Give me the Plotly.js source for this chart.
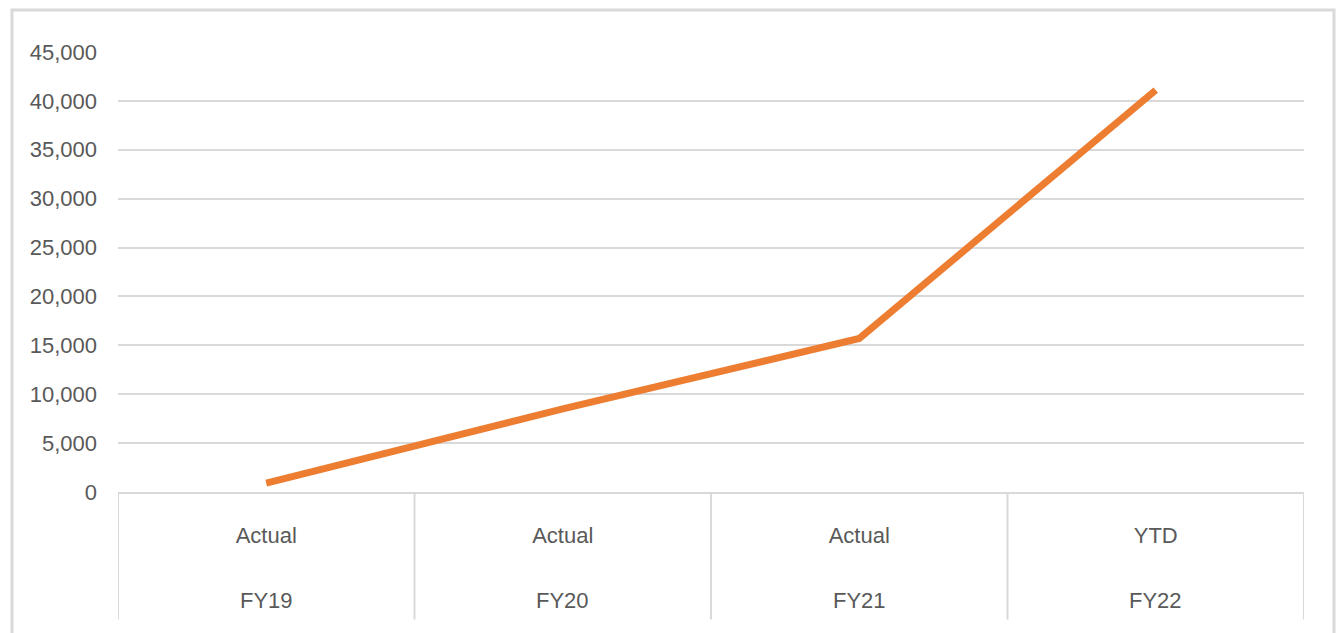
<!DOCTYPE html>
<html>
<head>
<meta charset="utf-8">
<script src="https://cdn.plot.ly/plotly-3.0.1.min.js"></script>
<style>html,body{margin:0;padding:0;background:#fff;}#chart{width:1337px;height:633px;}</style>
</head>
<body>
<div id="chart"></div>
<script>
const years = ["FY19", "FY20", "FY21", "FY22"];
const periods = ["Actual", "Actual", "Actual", "YTD"];
const values = [900, 8500, 15700, 41100];
const yTickVals = [0, 5000, 10000, 15000, 20000, 25000, 30000, 35000, 40000, 45000];

const font = {family: "Liberation Sans, Arial, sans-serif", size: 22, color: "#595959"};
const gridColor = "#d9d9d9";

const trace = {
  type: "scatter",
  mode: "lines",
  x: years,
  y: values,
  line: {color: "#ED7D31", width: 7},
  hoverinfo: "skip"
};

// category divider lines below the axis (decoration), one at each category boundary
const dividers = [];
for (let i = 0; i <= years.length; i++) {
  dividers.push({
    type: "line", xref: "x", yref: "paper",
    x0: i - 0.5, x1: i - 0.5, y0: 0, y1: -0.29,
    line: {color: gridColor, width: 2}, layer: "below"
  });
}

// outer category row (fiscal years)
const yearLabels = years.map(y => ({
  x: y, xref: "x", y: -0.2455, yref: "paper",
  text: y, showarrow: false, xanchor: "center", yanchor: "middle",
  font: font
}));

const layout = {
  width: 1337, height: 633,
  margin: {l: 118, r: 33, t: 52, b: 141},
  paper_bgcolor: "#ffffff", plot_bgcolor: "#ffffff",
  showlegend: false,
  font: font,
  xaxis: {
    type: "category",
    range: [-0.5, years.length - 0.5],
    tickvals: years,
    ticktext: periods,
    showgrid: false, zeroline: false,
    showline: true, linecolor: gridColor, linewidth: 2,
    ticks: "", ticklabelstandoff: 23,
    tickfont: font
  },
  yaxis: {
    range: [0, 45000],
    tickvals: yTickVals,
    tickformat: ",d",
    showgrid: true, gridcolor: gridColor, gridwidth: 2,
    zeroline: false, showline: false,
    ticks: "", ticklabelstandoff: 20,
    tickfont: font
  },
  annotations: yearLabels,
  shapes: [{
    type: "rect", xref: "paper", yref: "paper",
    x0: -0.0894, x1: 1.0253, y0: -0.5, y1: 1.0955,
    line: {color: gridColor, width: 3}, fillcolor: "rgba(0,0,0,0)", layer: "below"
  }].concat(dividers)
};

Plotly.newPlot("chart", [trace], layout, {displayModeBar: false, staticPlot: true});
</script>
</body>
</html>
